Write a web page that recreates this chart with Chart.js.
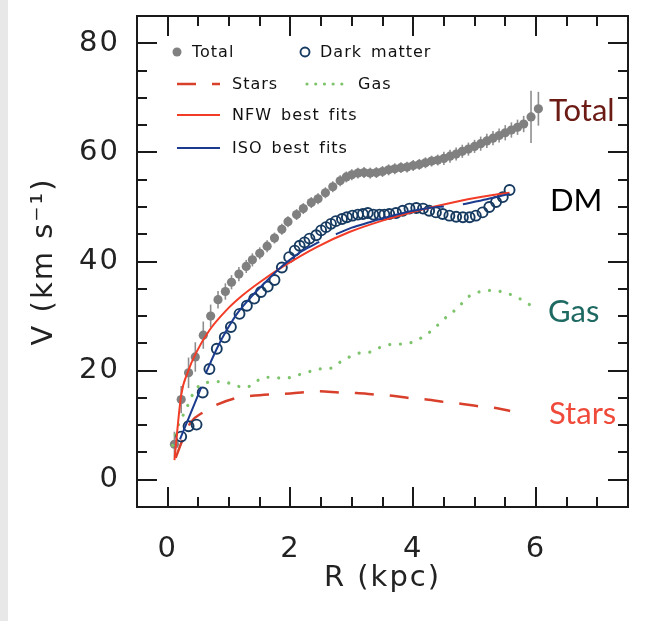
<!DOCTYPE html>
<html>
<head>
<meta charset="utf-8">
<script src="https://cdn.jsdelivr.net/npm/chart.js@4.4.1/dist/chart.umd.min.js"></script>
<style>
  html, body { margin: 0; padding: 0; }
  body { width: 656px; height: 621px; background: linear-gradient(to right, #e8e8e8 0px, #e8e8e8 8px, #ffffff 8px); overflow: hidden; }
  canvas { display: block; }
</style>
</head>
<body>
<canvas id="c" width="656" height="621"></canvas>
<script>
// ---------- data ----------
const xTicks = [0, 2, 4, 6];
const yTicks = [0, 20, 40, 60, 80];

const totalR = [0.11,0.22,0.34,0.45,0.58,0.70,0.82,0.94,1.04,1.16,1.28,1.38,1.50,1.62,1.74,1.86,1.96,2.10,2.21,2.34,2.45,2.57,2.69,2.81,2.91,3.0,3.1,3.2,3.3,3.4,3.5,3.6,3.7,3.8,3.9,4.0,4.1,4.2,4.3,4.4,4.5,4.6,4.7,4.8,4.9,5.0,5.1,5.2,5.3,5.4,5.5,5.6,5.7,5.8,5.92,6.04];
const totalV = [6.5,14.7,19.6,22.5,26.5,30.0,33.0,34.5,36.2,37.7,39.1,40.3,41.5,42.8,44.3,45.9,47.3,48.6,49.7,50.8,51.5,52.6,53.7,54.8,55.5,55.9,56.2,56.3,56.2,56.3,56.5,56.8,57.0,57.2,57.3,57.6,57.8,58.1,58.4,58.6,58.9,59.3,59.7,60.2,60.6,61.1,61.6,62.1,62.6,63.1,63.6,64.1,64.6,65.2,66.5,68.0];
const totalErr = [2.3,2.5,2.8,2.7,2.5,2.1,1.6,1.5,1.3,1.3,1.2,1.2,1.1,1.1,1.0,1.0,1.0,1.0,1.0,1.0,1.0,1.0,1.0,1.0,1.0,1.0,1.0,1.0,1.0,1.0,1.0,1.0,1.0,1.0,1.0,1.0,1.0,1.0,1.0,1.0,1.2,1.2,1.2,1.2,1.2,1.2,1.3,1.3,1.3,1.3,1.4,1.4,1.4,1.5,4.8,3.1];

const dmR = [0.22,0.34,0.47,0.57,0.68,0.80,0.93,1.03,1.17,1.29,1.41,1.52,1.63,1.74,1.86,1.98,2.07,2.15,2.23,2.31,2.42,2.50,2.58,2.66,2.74,2.84,2.92,3.01,3.10,3.18,3.26,3.35,3.45,3.53,3.61,3.72,3.83,3.94,4.05,4.16,4.26,4.37,4.48,4.59,4.70,4.81,4.92,5.02,5.13,5.24,5.35,5.46,5.57];
const dmV = [7.9,9.8,10.1,16.0,20.3,24.0,26.1,28.0,30.4,31.9,33.2,34.4,35.4,36.6,38.9,40.8,42.0,42.9,43.5,44.2,44.8,45.7,46.3,46.9,47.4,47.8,48.1,48.4,48.6,48.7,48.9,48.6,48.6,48.6,48.7,48.9,49.3,49.7,49.8,49.7,49.3,49.0,48.7,48.4,48.2,48.1,48.1,48.4,49.0,50.0,50.9,51.8,53.1];

const starsR = [0.13,0.25,0.38,0.57,0.79,1.12,1.5,2.0,2.47,2.8,3.08,3.4,3.66,3.97,4.22,4.54,4.8,5.11,5.37,5.58];
const starsV = [4.0,7.5,10.6,12.3,13.7,15.0,15.5,15.8,16.2,16.0,15.9,15.6,15.4,14.9,14.7,14.2,13.9,13.4,13.1,12.6];

const gasR = [0.08,0.16,0.25,0.33,0.41,0.52,0.71,0.90,1.09,1.27,1.44,1.58,1.74,1.92,2.09,2.28,2.46,2.64,2.80,2.96,3.12,3.30,3.47,3.64,3.83,4.01,4.17,4.32,4.45,4.59,4.74,4.86,5.02,5.20,5.38,5.55,5.72,5.88,6.03];
const gasV = [6.3,9.6,11.8,13.7,15.7,17.3,17.9,18.0,17.3,16.9,18.0,18.8,18.7,18.6,19.1,19.7,20.3,20.4,21.5,22.5,23.2,23.4,24.3,24.8,24.9,25.3,26.3,27.5,28.9,30.3,31.6,33.2,34.2,34.7,34.6,34.1,33.3,32.2,31.3];

const nfwR = [0.11,0.22,0.33,0.46,0.68,0.95,1.22,1.5,1.87,2.42,2.96,3.5,4.07,4.48,4.89,5.3,5.57];
const nfwV = [3.6,15.5,19.8,23.2,27.4,31.0,33.8,36.2,39.0,42.6,45.4,47.5,49.3,50.4,51.4,52.2,52.6];

// ISO fits are drawn as separate radial pieces; null marks a break
const isoR = [0.20,0.55, 0.58, 0.62,0.80,0.95,1.14,1.40,1.60,1.80,1.98,2.20,2.47, 2.6, 2.74,3.00,3.29,3.50,3.77,4.00,4.25,4.50, 4.65, 4.81,5.20,5.57];
const isoV = [7.4,17.0, null, 19.5,24.0,27.2,30.6,34.0,36.3,38.5,40.2,42.0,43.6, null, 45.0,46.2,47.2,47.9,48.7,49.3,49.8,50.1, null, 50.5,51.4,52.4];

const pts = (xs, ys) => xs.map((x, i) => ({ x: x, y: ys[i] }));

// ---------- colours ----------
const C = {
  total: '#808080', err: '#8e8e8e', dm: '#163a60', nfw: '#f23c27', iso: '#1b3c8e',
  stars: '#d9402c', gas: '#7dc46c', ink: '#1a1a1a'
};

const TICK_FONT = 'DejaVu Sans';

const decorPlugin = {
  id: 'decor',
  beforeDraw(chart) {
    // wide letter spacing for the axis texts drawn by the library
    try { chart.ctx.letterSpacing = '2px'; } catch (e) {}
  },
  beforeDatasetsDraw(chart) {
    const { ctx, scales: { x, y } } = chart;
    ctx.save();
    ctx.strokeStyle = C.err;
    ctx.lineWidth = 1.6;
    totalR.forEach((r, i) => {
      const px = x.getPixelForValue(r);
      ctx.beginPath();
      ctx.moveTo(px, y.getPixelForValue(totalV[i] - totalErr[i]));
      ctx.lineTo(px, y.getPixelForValue(totalV[i] + totalErr[i]));
      ctx.stroke();
    });
    ctx.restore();
  },
  afterDraw(chart) {
    const { ctx, chartArea: a, scales: { x, y } } = chart;
    ctx.save();
    // frame
    ctx.strokeStyle = C.ink;
    ctx.lineWidth = 2;
    ctx.setLineDash([]);
    ctx.strokeRect(a.left, a.top, a.right - a.left, a.bottom - a.top);
    const seg = (x1, y1, x2, y2) => { ctx.beginPath(); ctx.moveTo(x1, y1); ctx.lineTo(x2, y2); ctx.stroke(); };
    // inward ticks, x: every 0.5, major on labelled ticks
    for (let v = 0; v <= 7.0001; v += 0.5) {
      const L = xTicks.includes(Math.round(v * 10) / 10) ? 20 : 10;
      const px = Math.round(x.getPixelForValue(v));
      seg(px, a.bottom, px, a.bottom - L);
      seg(px, a.top, px, a.top + L);
    }
    // y: every 5
    for (let v = 0; v <= 80.0001; v += 5) {
      const L = yTicks.includes(Math.round(v)) ? 20 : 10;
      const py = Math.round(y.getPixelForValue(v));
      seg(a.left, py, a.left + L, py);
      seg(a.right, py, a.right - L, py);
    }

    // ----- legend -----
    ctx.font = '16px "DejaVu Sans"';
    ctx.fillStyle = '#111';
    ctx.textBaseline = 'middle';
    ctx.textAlign = 'left';
    try { ctx.letterSpacing = '1px'; ctx.wordSpacing = '3px'; } catch (e) {}
    // row 1
    ctx.beginPath(); ctx.arc(177, 52, 4.5, 0, Math.PI * 2); ctx.fillStyle = C.total; ctx.fill();
    ctx.fillStyle = '#111'; ctx.fillText('Total', 192, 53);
    ctx.beginPath(); ctx.arc(305, 52, 4.5, 0, Math.PI * 2); ctx.strokeStyle = C.dm; ctx.lineWidth = 1.9; ctx.stroke();
    ctx.fillText('Dark matter', 320, 53);
    // row 2
    ctx.strokeStyle = C.stars; ctx.lineWidth = 2.5; ctx.setLineDash([19, 16]); ctx.lineCap = 'butt';
    seg(177, 84, 220, 84);
    ctx.fillText('Stars', 232, 85);
    ctx.strokeStyle = C.gas; ctx.lineWidth = 3.2; ctx.setLineDash([0.01, 8.7]); ctx.lineCap = 'round';
    seg(307, 84, 343, 84);
    ctx.setLineDash([]); ctx.lineCap = 'butt';
    ctx.fillText('Gas', 358, 85);
    // row 3, 4
    ctx.strokeStyle = C.nfw; ctx.lineWidth = 2; seg(177, 115, 220, 115);
    ctx.fillText('NFW best fits', 232, 116);
    ctx.strokeStyle = C.iso; ctx.lineWidth = 2; seg(177, 148, 220, 148);
    ctx.fillText('ISO best fits', 232, 149);

    // ----- curve names at right -----
    try { ctx.letterSpacing = '0px'; ctx.wordSpacing = '0px'; } catch (e) {}
    ctx.font = '31px Lato';
    ctx.textBaseline = 'alphabetic';
    ctx.fillStyle = '#6b1a14'; ctx.fillText('Total', 549, 121);
    ctx.fillStyle = '#000000'; ctx.fillText('DM', 550, 211);
    ctx.fillStyle = '#1e6a63'; ctx.fillText('Gas', 548, 322);
    ctx.fillStyle = '#ef4a3a'; ctx.fillText('Stars', 549, 424);
    ctx.restore();
  }
};

new Chart(document.getElementById('c'), {
  type: 'scatter',
  data: {
    datasets: [
      { label: 'ISO best fits', data: pts(isoR, isoV), showLine: true, spanGaps: false, borderColor: C.iso, borderWidth: 2, pointRadius: 0, tension: 0.3, order: 1 },
      { label: 'NFW best fits', data: pts(nfwR, nfwV), showLine: true, borderColor: C.nfw, borderWidth: 2, pointRadius: 0, cubicInterpolationMode: 'monotone', order: 2 },
      { label: 'Dark matter', data: pts(dmR, dmV), showLine: false, pointRadius: 5, pointBorderWidth: 1.9, pointBorderColor: C.dm, pointBackgroundColor: 'rgba(0,0,0,0)', order: 3 },
      { label: 'Stars', data: pts(starsR, starsV), showLine: true, borderColor: C.stars, borderWidth: 2.5, borderDash: [19, 16], pointRadius: 0, cubicInterpolationMode: 'monotone', order: 4 },
      { label: 'Gas', data: pts(gasR, gasV), showLine: true, borderColor: C.gas, borderWidth: 3.2, borderDash: [0.01, 10.7], borderCapStyle: 'round', pointRadius: 0, cubicInterpolationMode: 'monotone', order: 5 },
      { label: 'Total', data: pts(totalR, totalV), showLine: false, pointRadius: 4.6, pointBorderWidth: 0, pointBackgroundColor: C.total, order: 6 }
    ]
  },
  options: {
    responsive: false,
    animation: false,
    devicePixelRatio: 1,
    layout: { padding: { top: 16, right: 28, left: 0, bottom: 0 } },
    plugins: { legend: { display: false }, tooltip: { enabled: false } },
    scales: {
      x: {
        type: 'linear', min: -0.5, max: 7.5,
        afterBuildTicks: s => { s.ticks = xTicks.map(v => ({ value: v })); },
        afterFit: s => { s.height = 114; s.paddingLeft = 0; s.paddingRight = 0; },
        grid: { display: false, drawTicks: false },
        border: { display: false },
        ticks: { padding: 25, color: '#222', maxRotation: 0, font: { family: TICK_FONT, size: 29 } },
        title: { display: true, text: 'R (kpc)', color: '#222', font: { family: TICK_FONT, size: 29 }, padding: { top: 0, bottom: 25 } }
      },
      y: {
        type: 'linear', min: -5, max: 85,
        afterBuildTicks: s => { s.ticks = yTicks.map(v => ({ value: v })); },
        afterFit: s => { s.width = 137; s.paddingTop = 0; s.paddingBottom = 0; },
        grid: { display: false, drawTicks: false },
        border: { display: false },
        ticks: { padding: 17, color: '#222', font: { family: TICK_FONT, size: 29 } },
        title: { display: true, text: 'V (km s\u207B\u00B9)', color: '#222', font: { family: TICK_FONT, size: 29 }, padding: { top: 27, bottom: 0 } }
      }
    }
  },
  plugins: [decorPlugin]
});
</script>
</body>
</html>
